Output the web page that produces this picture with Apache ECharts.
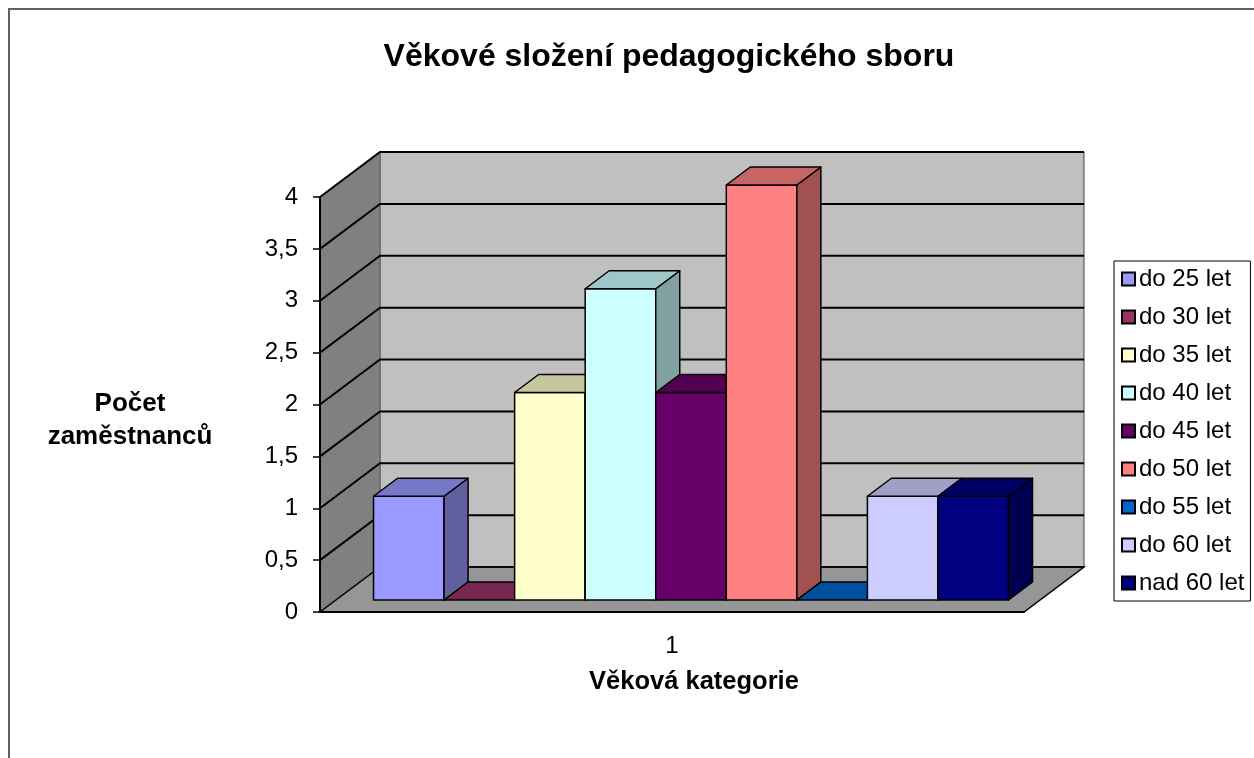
<!DOCTYPE html>
<html>
<head>
<meta charset="utf-8">
<script src="https://cdn.jsdelivr.net/npm/echarts@6/dist/echarts.min.js"></script>
<style>
  html, body { margin: 0; padding: 0; background: #fff; }
  #chart { width: 1254px; height: 758px; }
</style>
</head>
<body>
<div id="chart"></div>
<script>
var categories = ['1'];
var seriesNames = ['do 25 let', 'do 30 let', 'do 35 let', 'do 40 let', 'do 45 let',
  'do 50 let', 'do 55 let', 'do 60 let', 'nad 60 let'];
var seriesValues = [1, 0, 2, 3, 2, 4, 0, 1, 1];
var seriesColors = ['#9999ff', '#993366', '#ffffcc', '#ccffff', '#660066',
  '#ff8080', '#0066cc', '#ccccff', '#000080'];
var yTicks = [0, 0.5, 1, 1.5, 2, 2.5, 3, 3.5, 4];

var font = 'Liberation Sans, Arial, sans-serif';

// perspective: full depth of the plot box, and where the bars sit in it
var depthX = 60, depthY = -45;
var barFront = 0.267, barBack = 0.667;
var groupFrac = 0.902;
var groupShift = 3;

function shade(hex, k) {
  var n = parseInt(hex.slice(1), 16);
  var r = Math.round(((n >> 16) & 255) * k);
  var g = Math.round(((n >> 8) & 255) * k);
  var b = Math.round((n & 255) * k);
  return 'rgb(' + r + ',' + g + ',' + b + ')';
}

var chart = echarts.init(document.getElementById('chart'), null, { renderer: 'canvas' });

function renderWalls(params, api) {
  var cs = params.coordSys;
  var x0 = cs.x, x1 = cs.x + cs.width;
  var yb = api.coord([0, 0])[1];
  var yt = api.coord([0, yTicks[yTicks.length - 1]])[1];
  var dx = depthX, dy = depthY;
  var children = [];
  // back wall
  children.push({
    type: 'rect',
    shape: { x: x0 + dx, y: yt + dy, width: x1 - x0, height: yb - yt },
    style: { fill: '#c0c0c0', stroke: '#404040', lineWidth: 1 }
  });
  // side wall
  children.push({
    type: 'polygon',
    shape: { points: [[x0, yt], [x0 + dx, yt + dy], [x0 + dx, yb + dy], [x0, yb]] },
    style: { fill: '#808080', stroke: '#606060', lineWidth: 1 }
  });
  // floor
  children.push({
    type: 'polygon',
    shape: { points: [[x0, yb], [x1, yb], [x1 + dx, yb + dy], [x0 + dx, yb + dy]] },
    style: { fill: '#969696', stroke: '#000', lineWidth: 1.5 }
  });
  // gridlines on the walls
  yTicks.forEach(function(v) {
    var y = api.coord([0, v])[1];
    if (v > 0) {
      children.push({
        type: 'polyline',
        shape: { points: [[x0, y], [x0 + dx, y + dy], [x1 + dx, y + dy]] },
        style: { stroke: '#000', lineWidth: 2, fill: null }
      });
    } else {
      children.push({
        type: 'line',
        shape: { x1: x0 + dx, y1: y + dy, x2: x1 + dx, y2: y + dy },
        style: { stroke: '#000', lineWidth: 1.5 }
      });
    }
  });
  return { type: 'group', children: children };
}

function makeBarRender(i) {
  return function(params, api) {
    var v = api.value(1);
    var base = api.coord([api.value(0), 0]);
    var top = api.coord([api.value(0), v]);
    var band = api.size([1, 0])[0];
    var groupW = band * groupFrac;
    var w = groupW / seriesValues.length;
    var fx = depthX * barFront, fy = depthY * barFront;
    var ddx = depthX * (barBack - barFront), ddy = depthY * (barBack - barFront);
    var xl = base[0] - groupW / 2 + i * w + fx + groupShift;
    var xr = xl + w;
    var yB = base[1] + fy;
    var yT = top[1] + fy;
    var c = seriesColors[i];
    var stroke = { stroke: '#000', lineWidth: 1.5, lineJoin: 'round' };
    var children = [];
    if (v > 0) {
      children.push({
        type: 'polygon',
        shape: { points: [[xl, yT], [xr, yT], [xr, yB], [xl, yB]] },
        style: Object.assign({ fill: c }, stroke)
      });
      children.push({
        type: 'polygon',
        shape: { points: [[xr, yT], [xr + ddx, yT + ddy], [xr + ddx, yB + ddy], [xr, yB]] },
        style: Object.assign({ fill: shade(c, 0.63) }, stroke)
      });
    }
    children.push({
      type: 'polygon',
      shape: { points: [[xl, yT], [xr, yT], [xr + ddx, yT + ddy], [xl + ddx, yT + ddy]] },
      style: Object.assign({ fill: shade(c, 0.78) }, stroke)
    });
    return { type: 'group', children: children };
  };
}

var series = [{
  type: 'custom',
  name: '_walls',
  renderItem: renderWalls,
  data: [[0, 0]],
  silent: true,
  z: 1
}];
seriesNames.forEach(function(name, i) {
  series.push({
    type: 'custom',
    name: name,
    renderItem: makeBarRender(i),
    itemStyle: { color: seriesColors[i] },
    data: [[0, seriesValues[i]]],
    z: 2
  });
});

chart.setOption({
  animation: false,
  backgroundColor: '#fff',
  textStyle: { fontFamily: font },
  grid: { left: 320, right: 230, top: 197, bottom: 146 },
  xAxis: {
    type: 'category',
    data: categories,
    z: 10,
    axisLine: { lineStyle: { color: '#000', width: 2 } },
    axisTick: { length: 7, lineStyle: { color: '#000', width: 1.5 } },
    axisLabel: { color: '#000', fontSize: 24, fontFamily: font, margin: 22 },
    splitLine: { show: false }
  },
  yAxis: {
    type: 'value',
    min: 0,
    max: 4,
    interval: 0.5,
    z: 10,
    axisLine: { show: true, lineStyle: { color: '#000', width: 2 } },
    axisTick: { show: true, length: 7, lineStyle: { color: '#000', width: 1.5 } },
    axisLabel: {
      color: '#000', fontSize: 24, fontFamily: font, margin: 22, padding: [6, 0, 0, 0],
      formatter: function(v) { return String(v).replace('.', ','); }
    },
    splitLine: { show: false }
  },
  legend: {
    orient: 'vertical',
    left: 1114,
    top: 261,
    padding: [6, 6, 6, 7],
    itemGap: 14,
    itemWidth: 13,
    itemHeight: 13,
    icon: 'rect',
    backgroundColor: '#fff',
    borderColor: '#000',
    borderWidth: 1,
    textStyle: { color: '#000', fontSize: 24, fontFamily: font, padding: [0, 0, 0, -1] },
    data: seriesNames.map(function(n, i) {
      return { name: n, itemStyle: { color: seriesColors[i], borderColor: '#000', borderWidth: 2 } };
    })
  },
  graphic: [
    {
      type: 'rect',
      shape: { x: 9, y: 9, width: 1400, height: 900 },
      style: { fill: null, stroke: '#606060', lineWidth: 2 },
      silent: true
    },
    {
      type: 'text',
      x: 669, y: 57,
      style: { text: 'Věkové složení pedagogického sboru', font: 'bold 32px ' + font,
        fill: '#000', align: 'center', verticalAlign: 'middle' }
    },
    {
      type: 'text',
      x: 130, y: 420,
      style: { text: 'Počet\nzaměstnanců', font: 'bold 26px ' + font, lineHeight: 33,
        fill: '#000', align: 'center', verticalAlign: 'middle' }
    },
    {
      type: 'text',
      x: 694, y: 682,
      style: { text: 'Věková kategorie', font: 'bold 25.5px ' + font,
        fill: '#000', align: 'center', verticalAlign: 'middle' }
    }
  ],
  series: series
});
</script>
</body>
</html>
